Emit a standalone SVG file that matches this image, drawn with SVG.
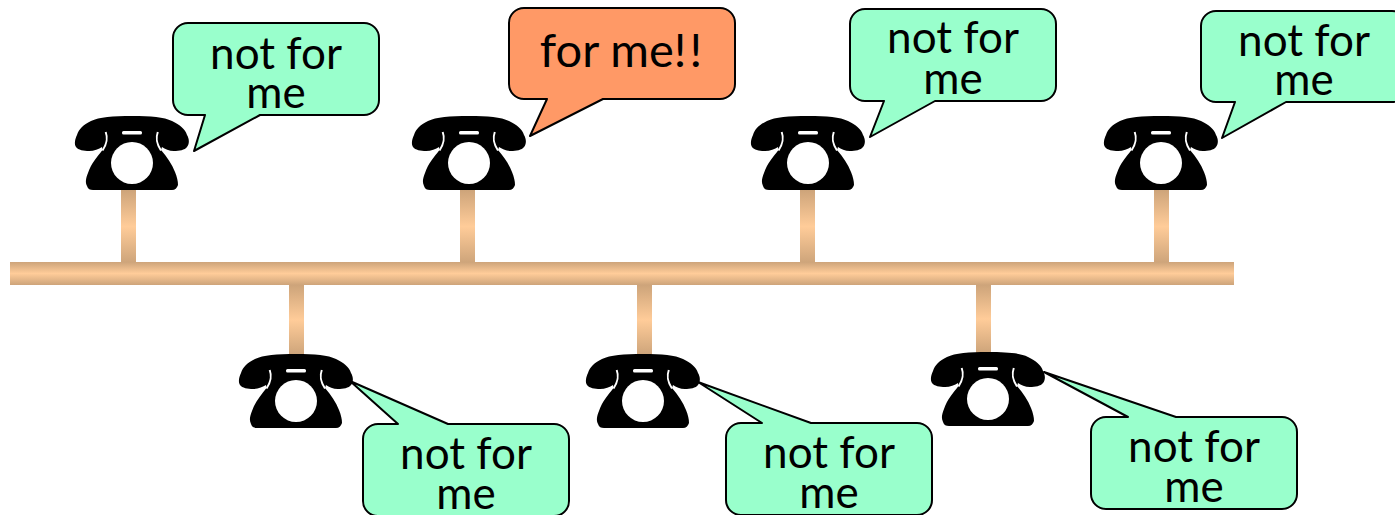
<svg xmlns="http://www.w3.org/2000/svg" width="1395" height="515" viewBox="0 0 1395 515">
<style>
.wire{fill:url(#cable)}
.call{stroke:#000;stroke-width:2;stroke-linejoin:round}
.green{fill:#99FFCC}
.orange{fill:#FF9966}
text{font-family:"Lato","Open Sans",sans-serif;font-size:44px;fill:#000;text-anchor:middle}
.big{font-size:47px}
.bang{letter-spacing:3px}
</style>
<defs>
<linearGradient id="cable" x1="0" y1="0" x2="0" y2="1">
<stop offset="0" stop-color="#CDA47A"/><stop offset="0.5" stop-color="#FFCC99"/><stop offset="1" stop-color="#CDA47A"/>
</linearGradient>
<symbol id="phone" width="116" height="76" viewBox="0 0 116 76" overflow="visible">
<path d="M57 0C38 0 24 1 16 5C8 9 4 13 2 19C0 23 -1 28 1 31C3 34 9 35 14 35C19 35 24 33 27 31L27.500 34C22 41 16 48 13 57C11 62 10 66 12 70C13 73 15 74 18 74H97C100 74 102 72 103 69C103 65 102 61 100 56C97 48 92 41 86 34L87 31C90 33 94 35 99 35C104 35 110 34 112 31C114.500 28 114.500 23 112 19C110 13 105 9 97 5C89 1 76 0 57 0Z" fill="#000"/>
<path d="M30.700 16C32.500 21 33 26 27.500 34.500" fill="none" stroke="#fff" stroke-width="2"/>
<path d="M82.800 16C81 21 80.500 26 86 34.500" fill="none" stroke="#fff" stroke-width="2"/>
<rect x="47" y="15" width="20" height="3.500" rx="1.500" fill="#fff"/>
<circle cx="57" cy="47" r="21" fill="#fff"/>
</symbol>
</defs>
<g id="connectors">
<rect class="wire" x="121" y="190" width="15" height="73"/>
<rect class="wire" x="460" y="190" width="15" height="73"/>
<rect class="wire" x="800" y="190" width="15" height="73"/>
<rect class="wire" x="1154" y="190" width="15" height="73"/>
<rect class="wire" x="289" y="285" width="15" height="70"/>
<rect class="wire" x="637" y="285" width="15" height="70"/>
<rect class="wire" x="976" y="285" width="15" height="68"/>
<rect class="wire" x="10" y="262" width="1224" height="23"/>
</g>
<g id="phone1"><use href="#phone" x="75" y="116"/></g>
<g id="phone2"><use href="#phone" x="412" y="116"/></g>
<g id="phone3"><use href="#phone" x="751" y="116"/></g>
<g id="phone4"><use href="#phone" x="1104" y="116"/></g>
<g id="phone5"><use href="#phone" x="239" y="354"/></g>
<g id="phone6"><use href="#phone" x="586" y="354"/></g>
<g id="phone7"><use href="#phone" x="931" y="352"/></g>
<g id="callout1">
<path class="call green" d="M188 23H364A15 15 0 0 1 379 38V100A15 15 0 0 1 364 115H260L194 151L205 115H188A15 15 0 0 1 173 100V38A15 15 0 0 1 188 23Z"/>
<text x="276" y="68.500">not for</text><text x="276" y="107.500">me</text>
</g>
<g id="callout2">
<path class="call orange" d="M524 8H720A15 15 0 0 1 735 23V84A15 15 0 0 1 720 99H603L530 136L547 99H524A15 15 0 0 1 509 84V23A15 15 0 0 1 524 8Z"/>
<text class="big" x="622.500" y="67">for me<tspan class="bang">!!</tspan></text>
</g>
<g id="callout3">
<path class="call green" d="M865 9H1041A15 15 0 0 1 1056 24V86A15 15 0 0 1 1041 101H935L870 137L884 101H865A15 15 0 0 1 850 86V24A15 15 0 0 1 865 9Z"/>
<text x="953" y="53">not for</text><text x="953" y="94">me</text>
</g>
<g id="callout4">
<path class="call green" d="M1216 11H1392A15 15 0 0 1 1407 26V87A15 15 0 0 1 1392 102H1286L1222 138L1235 102H1216A15 15 0 0 1 1201 87V26A15 15 0 0 1 1216 11Z"/>
<text x="1304" y="55.500">not for</text><text x="1304" y="95">me</text>
</g>
<g id="callout5">
<path class="call green" d="M378 424H398L350 381L448 424H554A15 15 0 0 1 569 439V501A15 15 0 0 1 554 516H378A15 15 0 0 1 363 501V439A15 15 0 0 1 378 424Z"/>
<text x="466" y="469">not for</text><text x="466" y="509">me</text>
</g>
<g id="callout6">
<path class="call green" d="M741 423H762L698 382L811 423H917A15 15 0 0 1 932 438V500A15 15 0 0 1 917 515H741A15 15 0 0 1 726 500V438A15 15 0 0 1 741 423Z"/>
<text x="829" y="468">not for</text><text x="829" y="508">me</text>
</g>
<g id="callout7">
<path class="call green" d="M1106 417H1128L1044 372L1176 417H1282A15 15 0 0 1 1297 432V494A15 15 0 0 1 1282 509H1106A15 15 0 0 1 1091 494V432A15 15 0 0 1 1106 417Z"/>
<text x="1194" y="462">not for</text><text x="1194" y="502">me</text>
</g>
</svg>
